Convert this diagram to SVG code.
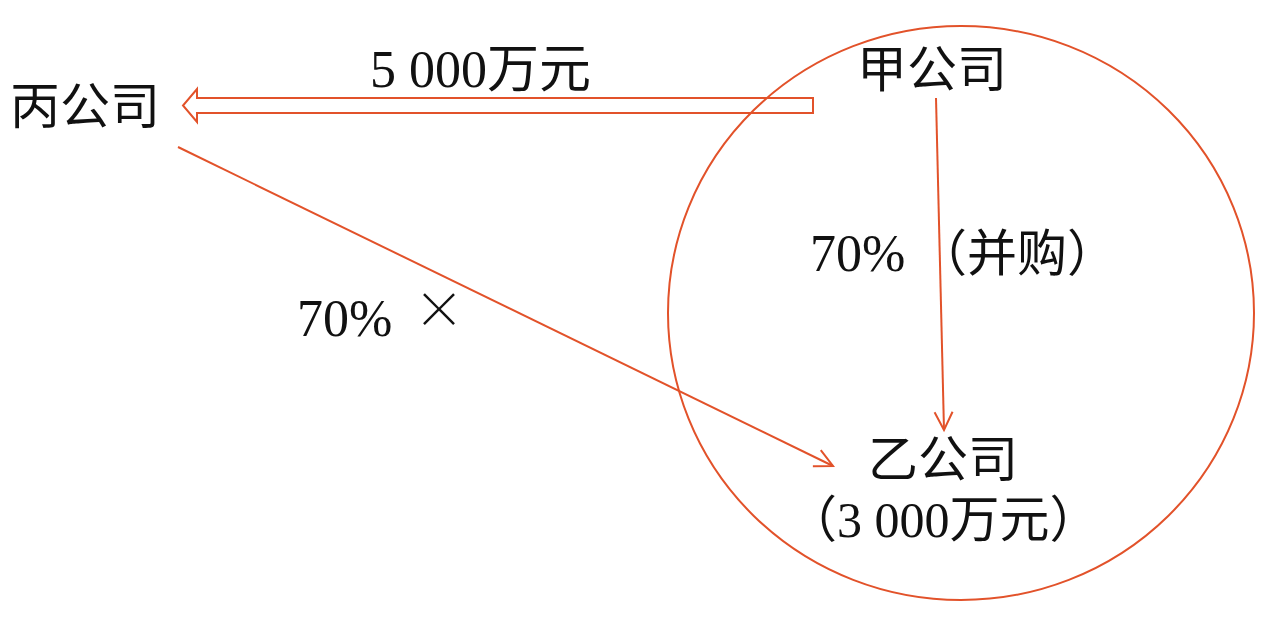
<svg xmlns="http://www.w3.org/2000/svg" width="1280" height="643" viewBox="0 0 1280 643">
<defs>
<style>
.t{font-family:"Liberation Serif","Noto Sans CJK SC",serif;fill:#111;}
.ln{stroke:#e2522a;stroke-width:2;fill:none;}
</style>
<marker id="v" markerWidth="24" markerHeight="24" refX="20" refY="12" orient="auto" markerUnits="userSpaceOnUse">
<path d="M2,3 L20,12 L2,21" fill="none" stroke="#e2522a" stroke-width="2"/>
</marker>
</defs>
<rect width="1280" height="643" fill="#fff"/>
<g id="circle"><ellipse class="ln" cx="961" cy="313" rx="293" ry="287"/></g>
<g id="bing"><text class="t" x="10" y="124" font-size="50">丙公司</text></g>
<g id="jia"><text class="t" x="857" y="87" font-size="50">甲公司</text></g>
<g id="yi"><text class="t" x="868" y="477" font-size="50">乙公司</text><text class="t" x="787" y="537" font-size="50">（3 000万元）</text></g>
<g id="connectors">
<path class="ln" d="M813,98 L197,98 L197,89 L183,105.5 L197,122 L197,113 L813,113 Z" stroke-linejoin="miter"/>
<line class="ln" x1="936" y1="98" x2="944" y2="430" marker-end="url(#v)"/>
<line class="ln" x1="178" y1="147" x2="833" y2="466" marker-end="url(#v)"/>
</g>
<g id="labels">
<text class="t" x="370" y="87" font-size="52">5 000万元</text>
<text class="t" x="810" y="271" font-size="52">70%</text>
<text class="t" x="917" y="271" font-size="50">（并购）</text>
<text class="t" x="297" y="336" font-size="52">70%</text>
<text x="414" y="328" font-size="50" style="font-family:'Noto Sans CJK SC',sans-serif;fill:#111;font-weight:300">×</text>
</g>
</svg>
